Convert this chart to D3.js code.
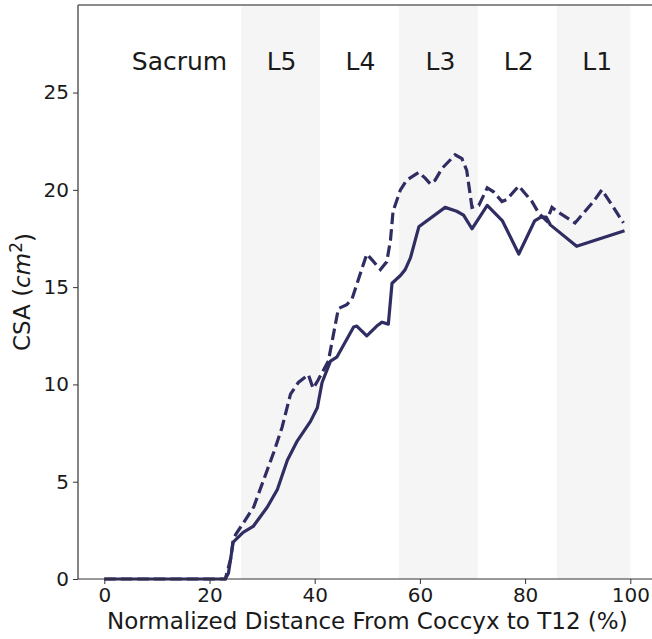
<!DOCTYPE html>
<html>
<head>
<meta charset="utf-8">
<script src="https://cdn.jsdelivr.net/npm/d3@7"></script>
<style>
  body{margin:0;background:#fff;}
  text{font-family:"DejaVu Sans",sans-serif;fill:#1a1a1a;}
</style>
</head>
<body>
<svg id="chart" width="652" height="639"></svg>
<script>
// solid line
const solidX=[0,23,23.6,24,24.5,26.4,28.3,31.0,32.9,34.8,36.7,39.2,40.5,41.4,43.0,44.2,47.4,48.0,49.9,51.8,52.8,54.0,54.7,56.3,57.2,58.2,59.8,64.8,67.0,68.3,69.9,72.8,75.7,78.8,81.8,83.0,84.0,84.8,89.8,98.9]
const solidY=[0,0,0.3,1.0,1.9,2.4,2.7,3.7,4.6,6.1,7.1,8.1,8.8,10.1,11.2,11.4,12.95,13.0,12.5,13.0,13.2,13.1,15.2,15.6,15.9,16.5,18.1,19.1,18.9,18.7,18.0,19.2,18.4,16.7,18.4,18.6,18.6,18.2,17.1,17.9]
// dashed line
const dashX=[0,23,24,24.5,25.0,26.5,28.4,30.3,32.2,33.8,35.4,36.9,38.8,39.7,40.6,42.6,44.5,46.1,47.1,49.9,50.9,52.5,53.7,54.4,54.9,56.3,57.5,59.8,61.0,62.0,62.9,64.2,66.7,68.0,68.9,69.9,71.2,72.8,74.0,75.6,76.5,78.8,81.3,82.6,84.1,85.1,86.0,89.5,93.0,94.6,96.8,98.7]
const dashY=[0,0,1.0,2.0,2.3,2.9,3.7,5.1,6.5,7.8,9.5,10.1,10.5,9.8,10.2,11.2,13.9,14.1,14.4,16.7,16.4,15.9,16.3,17.4,18.9,20.0,20.5,20.9,20.6,20.3,20.5,21.1,21.8,21.6,21.0,19.1,19.2,20.1,19.9,19.4,19.5,20.2,19.4,18.8,18.4,19.1,18.9,18.3,19.4,20.0,19.1,18.3]
// shaded vertebra bands and labels
const bandStart=[26,56,86]
const bandEnd=[41,71,100]
const regionNames=["Sacrum","L5","L4","L3","L2","L1"]
const regionPos=[14.3,33.7,48.7,63.9,78.8,93.7]
const xTicks=[0,20,40,60,80,100]
const yTicks=[0,5,10,15,20,25]

const color="#2f2d62"
const svg=d3.select("#chart")
const mLeft=78,mRight=656.6,mTop=5,mBottom=579
const x=d3.scaleLinear().domain([-5,105]).range([mLeft,mRight])
const y=d3.scaleLinear().domain([0,29.5]).range([mBottom,mTop])

svg.selectAll("rect.band")
  .data(bandStart)
  .enter()
  .append("rect")
  .attr("class","band")
  .attr("x",(d)=>x(d))
  .attr("y",mTop)
  .attr("width",(d,i)=>x(bandEnd[i])-x(d))
  .attr("height",mBottom-mTop)
  .attr("fill","#f5f5f5")

svg.selectAll("text.region")
  .data(regionNames)
  .enter()
  .append("text")
  .attr("class","region")
  .attr("x",(d,i)=>x(regionPos[i]))
  .attr("y",y(26.6)+9)
  .attr("text-anchor","middle")
  .style("font-size","25px")
  .text(d=>d)

const line=d3.line().x(d=>x(d[0])).y(d=>y(d[1]))
svg.append("path")
  .datum(solidX.map((v,i)=>[v,solidY[i]]))
  .attr("d",line)
  .attr("fill","none")
  .attr("stroke",color)
  .attr("stroke-width",3.2)
  .attr("stroke-linejoin","round")
svg.append("path")
  .datum(dashX.map((v,i)=>[v,dashY[i]]))
  .attr("d",line)
  .attr("fill","none")
  .attr("stroke",color)
  .attr("stroke-width",3.2)
  .attr("stroke-dasharray","11.5,5")

const xaxis=d3.axisBottom(x).tickValues(xTicks).tickSize(5).tickPadding(4)
const gx=svg.append("g").attr("transform","translate(0,"+mBottom+")").call(xaxis)
const yaxis=d3.axisLeft(y).tickValues(yTicks).tickSize(5).tickPadding(4)
const gy=svg.append("g").attr("transform","translate("+mLeft+",0)").call(yaxis)
;[gx,gy].forEach(g=>{
  g.select(".domain").remove()
  g.selectAll(".tick line").attr("stroke","#333").attr("stroke-width",1)
  g.selectAll(".tick text").style("font-size","20px").style("font-family","DejaVu Sans").attr("fill","#1a1a1a")
})

// spines
svg.append("line").attr("x1",mLeft).attr("x2",mLeft).attr("y1",mTop).attr("y2",mBottom).attr("stroke","#333").attr("stroke-width",1.2)
svg.append("line").attr("x1",mLeft).attr("x2",mRight).attr("y1",mBottom).attr("y2",mBottom).attr("stroke","#333").attr("stroke-width",1.2)
svg.append("line").attr("x1",mLeft).attr("x2",mRight).attr("y1",mTop).attr("y2",mTop).attr("stroke","#666").attr("stroke-width",1.4)

svg.append("text")
  .attr("x",x(50))
  .attr("y",629)
  .attr("text-anchor","middle")
  .style("font-size","23px")
  .text("Normalized Distance From Coccyx to T12 (%)")

const ylab=svg.append("text")
  .attr("transform","translate(30,"+((mTop+mBottom)/2)+") rotate(-90)")
  .attr("text-anchor","middle")
  .style("font-size","23px")
ylab.append("tspan").text("CSA (")
ylab.append("tspan").style("font-style","italic").text("cm")
ylab.append("tspan").attr("dy","-0.45em").style("font-size","17px").text("2")
ylab.append("tspan").attr("dy","0.45em").text(")")
</script>
</body>
</html>
